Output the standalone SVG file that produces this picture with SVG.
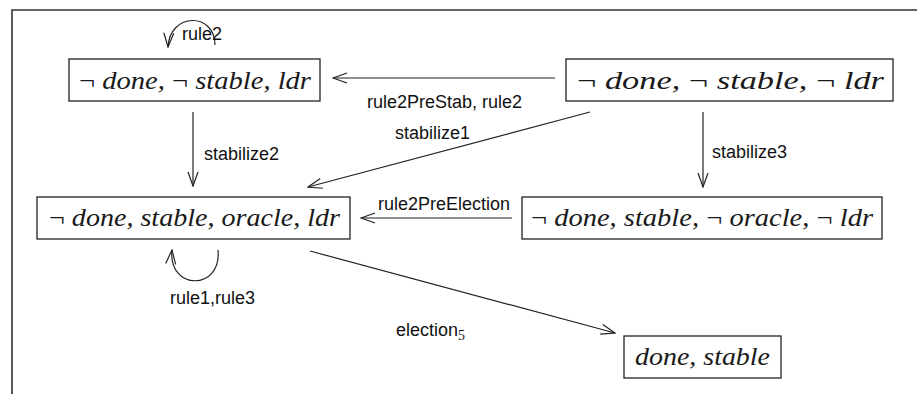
<svg xmlns="http://www.w3.org/2000/svg" width="917" height="394" viewBox="0 0 917 394">
  <style>
    .frame { fill: none; stroke: #333; stroke-width: 1.6; }
    .node rect { fill: #fff; stroke: #222; stroke-width: 1.3; }
    .math { font-family: "Liberation Serif", "DejaVu Serif", serif; font-size: 25px; font-style: italic; fill: #1a1a1a; }
    .math .op { font-style: normal; }
    .edge { fill: none; stroke: #222; stroke-width: 1.2; }
    .lbl { font-family: "Liberation Sans", Arial, sans-serif; font-size: 18px; fill: #111; }
    .sub { font-family: "Liberation Serif", serif; font-size: 14px; }
  </style>
  <defs>
    <marker id="arrow" markerUnits="userSpaceOnUse" viewBox="0 0 16 12" refX="15" refY="6" markerWidth="16" markerHeight="12" orient="auto">
      <path d="M1,1 L15,6 L1,11" fill="none" stroke="#222" stroke-width="1.2"/>
    </marker>
  </defs>

  <rect width="917" height="394" fill="#fff"/>
  <path class="frame" d="M12,394 V10 H917"/>

  <g id="n-notdone-notstable-ldr" class="node">
    <rect x="69" y="59" width="251" height="42"/>
    <text class="math" x="79" y="89" textLength="232" lengthAdjust="spacingAndGlyphs" xml:space="preserve"><tspan class="op">¬</tspan> done, <tspan class="op">¬</tspan> stable, ldr</text>
  </g>

  <g id="n-notdone-notstable-notldr" class="node">
    <rect x="566" y="59" width="327" height="42"/>
    <text class="math" x="577" y="89" textLength="307" lengthAdjust="spacingAndGlyphs" xml:space="preserve"><tspan class="op">¬</tspan> done, <tspan class="op">¬</tspan> stable, <tspan class="op">¬</tspan> ldr</text>
  </g>

  <g id="n-notdone-stable-oracle-ldr" class="node">
    <rect x="37" y="197" width="313" height="42"/>
    <text class="math" x="49" y="226" textLength="291" lengthAdjust="spacingAndGlyphs" xml:space="preserve"><tspan class="op">¬</tspan> done, stable, oracle, ldr</text>
  </g>

  <g id="n-notdone-stable-notoracle-notldr" class="node">
    <rect x="522" y="197" width="360" height="42"/>
    <text class="math" x="531" y="226" textLength="342" lengthAdjust="spacingAndGlyphs" xml:space="preserve"><tspan class="op">¬</tspan> done, stable, <tspan class="op">¬</tspan> oracle, <tspan class="op">¬</tspan> ldr</text>
  </g>

  <g id="n-done-stable" class="node">
    <rect x="624" y="336" width="157" height="42"/>
    <text class="math" x="635" y="365" textLength="135" lengthAdjust="spacingAndGlyphs">done, stable</text>
  </g>

  <g id="connectors">
    <!-- self loop: rule2 -->
    <path class="edge" d="M215,45 C215,12 170,12 168,47" marker-end="url(#arrow)"/>
    <text class="lbl" x="182" y="40">rule2</text>

    <!-- rule2PreStab, rule2 -->
    <path class="edge" d="M555,78 H333" marker-end="url(#arrow)"/>
    <text class="lbl" x="367" y="108">rule2PreStab, rule2</text>

    <!-- stabilize2 -->
    <path class="edge" d="M193,112 V186" marker-end="url(#arrow)"/>
    <text class="lbl" x="204" y="160">stabilize2</text>

    <!-- stabilize1 -->
    <path class="edge" d="M590,112 L308,187" marker-end="url(#arrow)"/>
    <text class="lbl" x="395" y="139">stabilize1</text>

    <!-- stabilize3 -->
    <path class="edge" d="M703,112 V187" marker-end="url(#arrow)"/>
    <text class="lbl" x="712" y="158">stabilize3</text>

    <!-- rule2PreElection -->
    <path class="edge" d="M512,218 H361" marker-end="url(#arrow)"/>
    <text class="lbl" x="378" y="210">rule2PreElection</text>

    <!-- self loop: rule1, rule3 -->
    <path class="edge" d="M218,250 C222,291 168,291 172,250" marker-end="url(#arrow)"/>
    <text class="lbl" x="170" y="304">rule1,rule3</text>

    <!-- election5 -->
    <path class="edge" d="M310,251 L615,333" marker-end="url(#arrow)"/>
    <text class="lbl" x="396" y="336">election<tspan class="sub" dy="4">5</tspan></text>
  </g>
</svg>
